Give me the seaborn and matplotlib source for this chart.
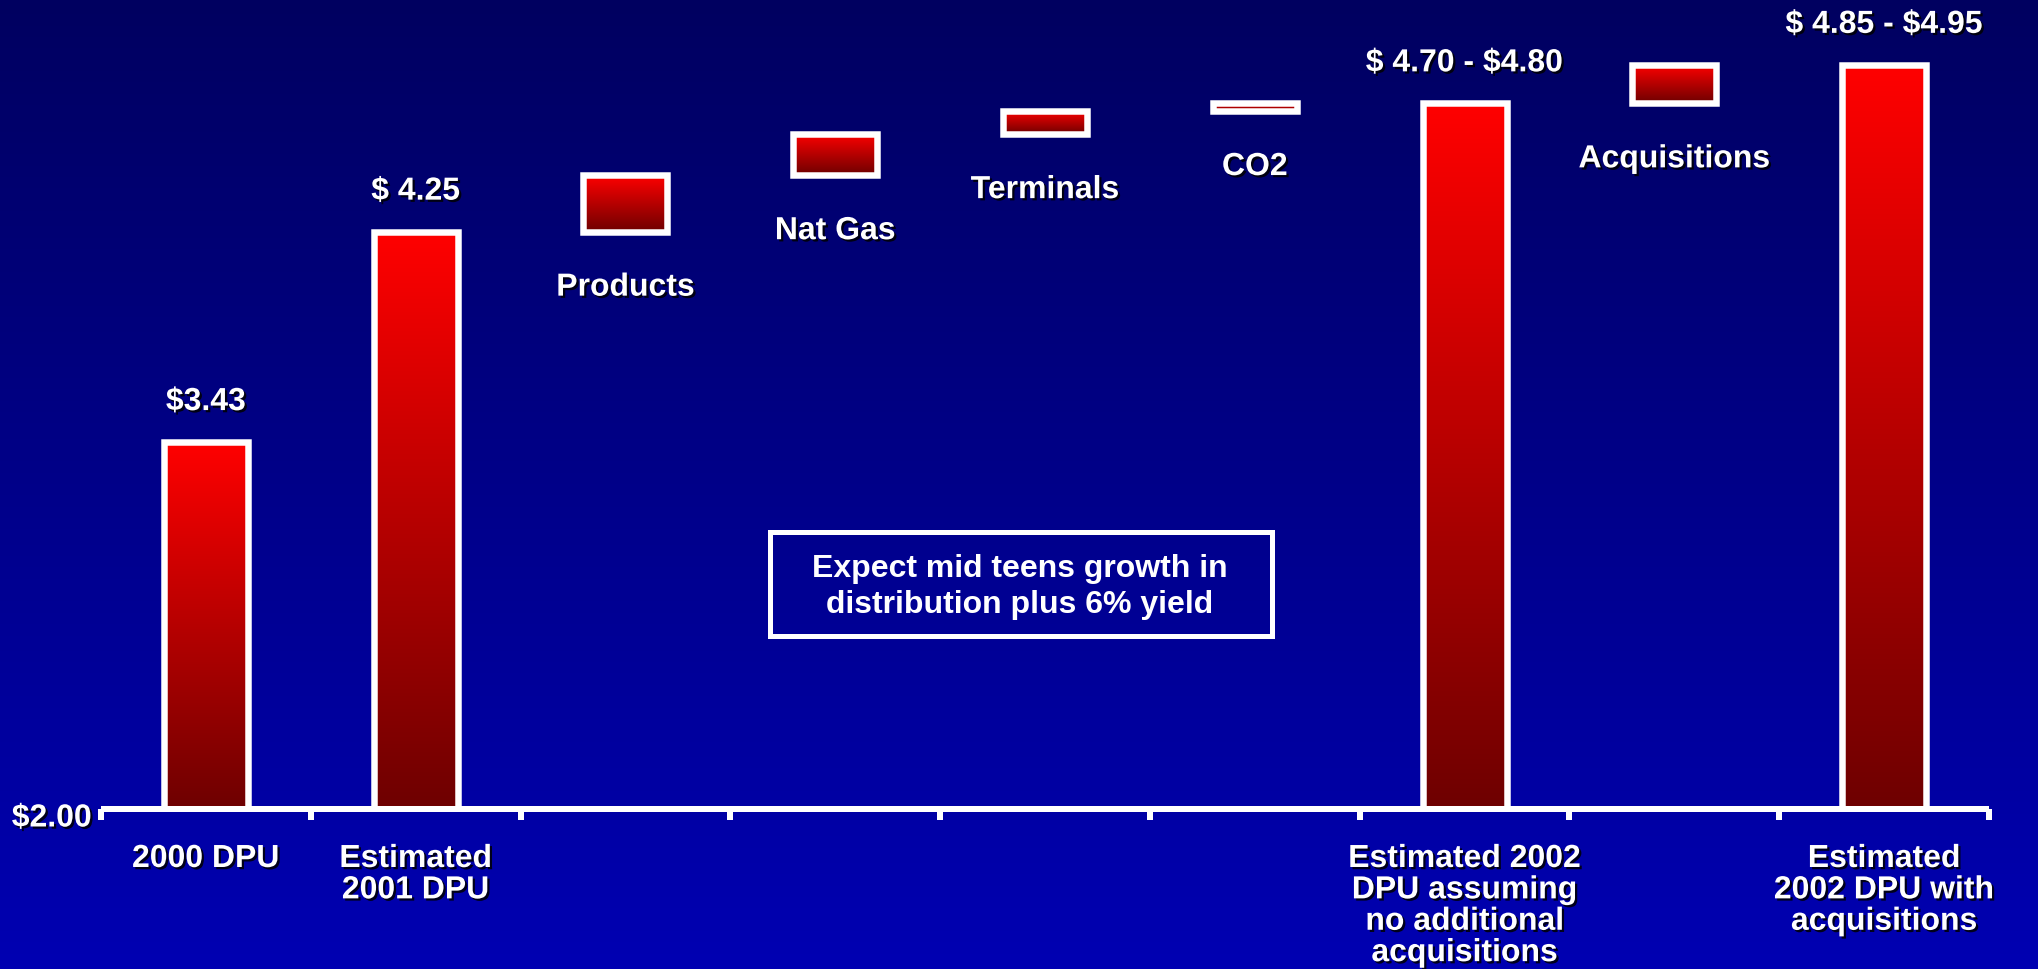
import numpy as np
import pandas as pd
import matplotlib
matplotlib.use("Agg")
import matplotlib.pyplot as plt
import matplotlib.patheffects as pe
from matplotlib.colors import LinearSegmentedColormap
from matplotlib.patches import Rectangle
from matplotlib.transforms import ScaledTranslation
import seaborn as sns

# ---- data -------------------------------------------------------------
categories = [
    "2000 DPU", "Estimated 2001 DPU", "Products", "Nat Gas", "Terminals",
    "CO2", "Estimated 2002 DPU assuming no additional acquisitions",
    "Acquisitions", "Estimated 2002 DPU with acquisitions",
]
kinds = ["total", "total", "step", "step", "step", "step", "total", "step", "total"]
# totals are $ per unit; steps are the increment each driver adds
values = [3.43, 4.25, 0.22, 0.16, 0.09, 0.03, 4.75, 0.15, 4.90]
value_labels = ["$3.43", "$ 4.25", "", "", "", "", "$ 4.70 - $4.80", "", "$ 4.85 - $4.95"]
step_labels = ["", "", "Products", "Nat Gas", "Terminals", "CO2", "", "Acquisitions", ""]
tick_labels = [
    "2000 DPU", "Estimated\n2001 DPU", "", "", "", "",
    "Estimated 2002\nDPU assuming\nno additional\nacquisitions", "",
    "Estimated\n2002 DPU with\nacquisitions",
]
y_floor = 2.00
y_floor_label = "$2.00"
note_text = "Expect mid teens growth in\ndistribution plus 6% yield"

# waterfall bases / tops
bases, tops = [], []
running = y_floor
for kind, v in zip(kinds, values):
    if kind == "total":
        bases.append(y_floor)
        tops.append(v)
        running = v
    else:
        bases.append(running)
        tops.append(running + v)
        running = running + v

df = pd.DataFrame({"category": categories, "top": tops})

# ---- style ------------------------------------------------------------
sns.set_style("white")
plt.rcParams["font.family"] = ["Liberation Sans", "DejaVu Sans"]
plt.rcParams["font.weight"] = "bold"
plt.rcParams["text.parse_math"] = False  # dollar signs are literal

W, H, DPI = 2038, 970, 100
fig = plt.figure(figsize=(W / DPI, H / DPI), dpi=DPI)

# background: vertical navy-to-blue gradient
bg = fig.add_axes([0, 0, 1, 1], zorder=-10)
bg_cmap = LinearSegmentedColormap.from_list("bg", ["#000060", "#0000b2"])
bg.imshow(np.linspace(0, 1, 256).reshape(-1, 1), cmap=bg_cmap, aspect="auto",
          extent=(0, 1, 0, 1), origin="upper")
bg.set_axis_off()

px = lambda p: p * 72 / DPI  # pixels -> points

axis_y = 810  # pixel row of the baseline (from top)
units_px = 256.6
ax = fig.add_axes([101 / W, (H - axis_y) / H, (1989 - 101) / W, axis_y / H])
ax.patch.set_alpha(0)

sns.barplot(data=df, x="category", y="top", order=categories, width=0.4,
            color="red", errorbar=None, ax=ax)

shadow = [pe.withSimplePatchShadow(offset=(1.6, -1.6), shadow_rgbFace="black", alpha=0.85)]
bar_cmap = LinearSegmentedColormap.from_list("bar", ["#6e0000", "#ff0000"])
grad = np.linspace(1, 0, 256).reshape(-1, 1)

for i, p in enumerate(ax.patches):
    p.set_y(bases[i])
    p.set_height(tops[i] - bases[i])
    p.set_facecolor("none")
    p.set_edgecolor("white")
    p.set_linewidth(px(6.5))
    p.set_joinstyle("miter")
    p.set_zorder(3)
    x0, w = p.get_x(), p.get_width()
    im = ax.imshow(grad, cmap=bar_cmap, vmin=0, vmax=1, aspect="auto", origin="upper",
                   extent=(x0, x0 + w, bases[i], tops[i]), zorder=2)
    im.set_clip_path(p)

    cx = x0 + w / 2
    if value_labels[i]:
        ax.annotate(value_labels[i], (cx, tops[i]), xytext=(0, px(40)),
                    textcoords="offset points", ha="center", va="center",
                    color="white", fontsize=23, fontweight="bold",
                    path_effects=shadow, annotation_clip=False)
    if step_labels[i]:
        ax.annotate(step_labels[i], (cx, bases[i]), xytext=(0, -px(56)),
                    textcoords="offset points", ha="center", va="center",
                    color="white", fontsize=23, fontweight="bold",
                    path_effects=shadow, annotation_clip=False)

ax.set_xlim(-0.5, len(categories) - 0.5)
ax.set_ylim(y_floor, y_floor + axis_y / units_px)

# axes: only a thick white baseline with tick marks between slots
for s in ["top", "right", "left"]:
    ax.spines[s].set_visible(False)
ax.spines["bottom"].set_color("white")
ax.spines["bottom"].set_linewidth(px(6))
ax.spines["bottom"].set_capstyle("butt")

ax.set_xlabel("")
ax.set_ylabel("")
ax.set_xticks(range(len(categories)))
ax.set_xticklabels(tick_labels, color="white", fontsize=23, fontweight="bold",
                   linespacing=1.06)
ax.set_xticks(np.arange(-0.5, len(categories)), minor=True)
ax.tick_params(axis="x", which="major", length=0, pad=px(35))
ax.tick_params(axis="x", which="minor", length=px(11), width=px(6), color="white",
               direction="out", bottom=True)
ax.set_yticks([y_floor])
ax.set_yticklabels([y_floor_label], color="white", fontsize=23, fontweight="bold")
ax.tick_params(axis="y", length=0, pad=px(9), left=True)
for lbl in ax.get_xticklabels() + ax.get_yticklabels():
    lbl.set_path_effects(shadow)
for lbl in ax.get_yticklabels():
    lbl.set_transform(lbl.get_transform() + ScaledTranslation(0, -px(6) / 72, fig.dpi_scale_trans))
ax.grid(False)

# note box
fig.add_artist(Rectangle((770 / W, (H - 637) / H), 502 / W, 104 / H,
                         transform=fig.transFigure, facecolor="none",
                         edgecolor="white", linewidth=px(5), zorder=5))
fig.text(1020 / W, (H - 587) / H, note_text, ha="center", va="center",
         color="white", fontsize=23, fontweight="bold", linespacing=1.3, zorder=6)

fig.savefig("out.png", dpi=DPI)
